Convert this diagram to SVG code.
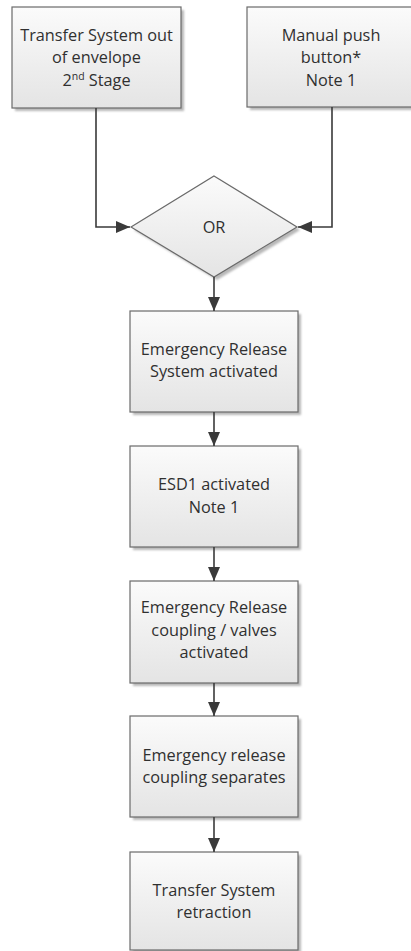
<svg xmlns="http://www.w3.org/2000/svg" width="411" height="951" viewBox="0 0 411 951">
<defs>
<linearGradient id="g" x1="0" y1="0" x2="0" y2="1">
<stop offset="0" stop-color="#fbfbfb"/>
<stop offset="1" stop-color="#e4e4e4"/>
</linearGradient>
<filter id="sh" x="-10%" y="-10%" width="130%" height="130%">
<feGaussianBlur stdDeviation="1"/>
</filter>
<marker id="ah" viewBox="0 0 14 12" refX="14" refY="6" markerWidth="14" markerHeight="12" markerUnits="userSpaceOnUse" orient="auto">
<path d="M0,0 L14,6 L0,12 Z" fill="#3a3a3a"/>
</marker>
</defs>
<style>
.box{fill:url(#g);stroke:#6a6a6a;stroke-width:1.2}
.shadow{fill:#b8b8b8;filter:url(#sh)}
.t{font-family:"Open Sans","Noto Sans","Liberation Sans",sans-serif;font-size:16.3px;fill:#303030;text-anchor:middle}
.c{fill:none;stroke:#3a3a3a;stroke-width:1.6;marker-end:url(#ah)}
</style>
<rect width="411" height="951" fill="#fff"/>
<g id="n1">
<rect class="shadow" x="15" y="10" width="169" height="101"/>
<rect class="box" x="12" y="7" width="169" height="101"/>
<text class="t" x="96.5" y="41">Transfer System out</text>
<text class="t" x="96.5" y="63">of envelope</text>
<text class="t" x="96.5" y="86">2<tspan font-size="10.5" dy="-6">nd</tspan><tspan dy="6"> Stage</tspan></text>
</g>
<g id="n2">
<rect class="shadow" x="250" y="10" width="170" height="100"/>
<rect class="box" x="247" y="7" width="170" height="100"/>
<text class="t" x="331" y="41">Manual push</text>
<text class="t" x="331" y="63">button*</text>
<text class="t" x="331" y="86">Note 1</text>
</g>
<g id="n3">
<polygon class="shadow" points="217,179 300,230 217,280 134,230"/>
<polygon class="box" points="214,176 297,227 214,277 131,227"/>
<text class="t" x="214" y="233">OR</text>
</g>
<g id="n4">
<rect class="shadow" x="133" y="314" width="168" height="101"/>
<rect class="box" x="130" y="311" width="168" height="101"/>
<text class="t" x="214" y="355">Emergency Release</text>
<text class="t" x="214" y="377">System activated</text>
</g>
<g id="n5">
<rect class="shadow" x="133" y="449" width="168" height="101"/>
<rect class="box" x="130" y="446" width="168" height="101"/>
<text class="t" x="214" y="490">ESD1 activated</text>
<text class="t" x="214" y="513">Note 1</text>
</g>
<g id="n6">
<rect class="shadow" x="133" y="584" width="168" height="102"/>
<rect class="box" x="130" y="581" width="168" height="102"/>
<text class="t" x="214" y="613">Emergency Release</text>
<text class="t" x="214" y="636">coupling / valves</text>
<text class="t" x="214" y="658">activated</text>
</g>
<g id="n7">
<rect class="shadow" x="133" y="719" width="168" height="101"/>
<rect class="box" x="130" y="716" width="168" height="101"/>
<text class="t" x="214" y="761">Emergency release</text>
<text class="t" x="214" y="783">coupling separates</text>
</g>
<g id="n8">
<rect class="shadow" x="133" y="855" width="168" height="100"/>
<rect class="box" x="130" y="852" width="168" height="98"/>
<text class="t" x="214" y="896">Transfer System</text>
<text class="t" x="214" y="918">retraction</text>
</g>
<g id="connectors">
<path class="c" d="M96,108 V227 H130"/>
<path class="c" d="M332,107 V227 H298"/>
<path class="c" d="M214,277 V311"/>
<path class="c" d="M214,412 V446"/>
<path class="c" d="M214,547 V581"/>
<path class="c" d="M214,683 V716"/>
<path class="c" d="M214,817 V852"/>
</g>
</svg>
